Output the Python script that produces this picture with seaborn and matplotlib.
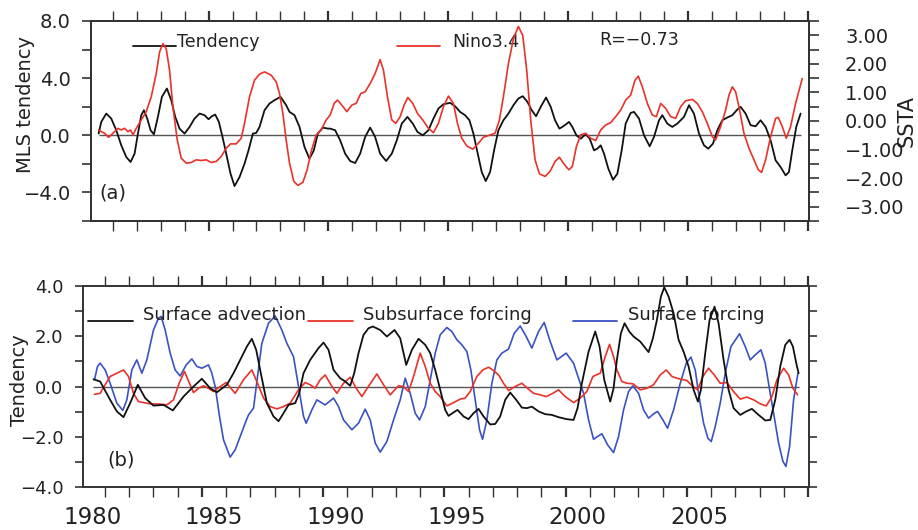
import numpy as np
import matplotlib
matplotlib.use("Agg")
import matplotlib.pyplot as plt
import seaborn as sns

# ---- data ----
# (a) MLS tendency (left axis) and Nino3.4 SSTA (right axis)
tend_year = [1980.418, 1980.529, 1980.737, 1980.946, 1981.154, 1981.363, 1981.571, 1981.751, 1981.918, 1982.057,
             1982.196, 1982.307, 1982.446, 1982.585, 1982.724, 1982.890, 1983.057, 1983.265, 1983.446, 1983.613,
             1983.793, 1984.001, 1984.210, 1984.418, 1984.626, 1984.835, 1985.001, 1985.140, 1985.279, 1985.432,
             1985.599, 1985.738, 1985.918, 1986.085, 1986.293, 1986.501, 1986.668, 1986.849, 1986.987, 1987.126,
             1987.335, 1987.543, 1987.751, 1988.001, 1988.237, 1988.376, 1988.585, 1988.793, 1989.001, 1989.210,
             1989.390, 1989.557, 1989.765, 1989.974, 1990.071, 1990.279, 1990.488, 1990.696, 1990.904, 1991.113,
             1991.321, 1991.529, 1991.738, 1991.946, 1992.154, 1992.404, 1992.640, 1992.849, 1993.057, 1993.293,
             1993.515, 1993.710, 1993.932, 1994.168, 1994.377, 1994.585, 1994.793, 1995.071, 1995.279, 1995.488,
             1995.696, 1995.877, 1996.043, 1996.224, 1996.390, 1996.557, 1996.738, 1996.904, 1997.085, 1997.293,
             1997.502, 1997.710, 1997.918, 1998.099, 1998.293, 1998.474, 1998.654, 1998.849, 1999.071, 1999.265,
             1999.446, 1999.627, 1999.793, 2000.029, 2000.168, 2000.335, 2000.515, 2000.724, 2000.890, 2001.071,
             2001.210, 2001.349, 2001.488, 2001.668, 2001.862, 2002.043, 2002.224, 2002.390, 2002.599, 2002.737,
             2002.946, 2003.154, 2003.390, 2003.571, 2003.779, 2003.918, 2004.126, 2004.335, 2004.543, 2004.821,
             2005.029, 2005.237, 2005.446, 2005.654, 2005.835, 2006.029, 2006.210, 2006.418, 2006.626, 2006.835,
             2007.043, 2007.182, 2007.390, 2007.599, 2007.807, 2008.015, 2008.224, 2008.432, 2008.640, 2008.849,
             2009.057, 2009.196, 2009.335, 2009.501, 2009.682]
tend_val = [0.117, 0.936, 1.520, 1.170, 0.351, -0.702, -1.520, -1.871, -1.287, 0.117,
            1.404, 1.754, 1.170, 0.351, 0.070, 1.287, 2.690, 3.275, 2.456, 1.287,
            0.468, 0.117, 0.585, 1.170, 1.520, 1.404, 1.123, 1.333, 1.450, 0.936,
            -0.234, -1.287, -2.690, -3.556, -2.924, -1.988, -1.053, 0.117, 0.164, 0.585,
            1.754, 2.222, 2.456, 2.690, 2.105, 1.637, 1.404, 0.585, -0.819, -1.637,
            -1.053, 0.117, 0.538, 0.468, 0.468, 0.351, -0.351, -1.287, -1.801, -1.942,
            -1.287, -0.117, 0.538, -0.117, -1.287, -1.801, -1.287, -0.351, 0.819, 1.287,
            0.819, 0.234, 0.000, 0.351, 1.170, 1.871, 2.175, 2.269, 2.035, 1.637,
            1.404, 1.053, 0.117, -1.287, -2.573, -3.205, -2.573, -1.053, 0.351, 1.053,
            1.520, 2.105, 2.573, 2.737, 2.339, 1.754, 1.333, 1.988, 2.643, 1.988,
            1.053, 0.468, 0.632, 0.936, 0.585, 0.000, -0.234, 0.070, -0.234, -1.053,
            -0.936, -0.702, -1.287, -2.339, -3.111, -2.690, -1.053, 0.819, 1.567, 1.637,
            1.170, 0.000, -0.772, -0.117, 1.053, 1.404, 0.819, 0.585, 0.819, 1.287,
            2.105, 1.520, 0.117, -0.702, -0.936, -0.585, 0.351, 1.053, 1.240, 1.404,
            1.801, 1.988, 1.520, 0.702, 0.632, 1.053, 0.585, -0.351, -1.754, -2.222,
            -2.807, -2.573, -1.053, 0.585, 1.520]

nino_year = [1980.418, 1980.529, 1980.668, 1980.835, 1981.015, 1981.224, 1981.363, 1981.501, 1981.640, 1981.751,
             1981.849, 1981.988, 1982.196, 1982.404, 1982.613, 1982.821, 1982.960, 1983.099, 1983.237, 1983.376,
             1983.515, 1983.696, 1983.862, 1984.071, 1984.279, 1984.488, 1984.696, 1984.904, 1985.112, 1985.321,
             1985.529, 1985.738, 1985.918, 1986.154, 1986.362, 1986.501, 1986.710, 1986.918, 1987.126, 1987.335,
             1987.612, 1987.821, 1987.960, 1988.099, 1988.237, 1988.376, 1988.557, 1988.724, 1988.932, 1989.112,
             1989.279, 1989.487, 1989.696, 1989.904, 1990.071, 1990.238, 1990.377, 1990.557, 1990.765, 1990.974,
             1991.154, 1991.349, 1991.529, 1991.738, 1991.946, 1992.154, 1992.293, 1992.460, 1992.640, 1992.807,
             1992.988, 1993.154, 1993.307, 1993.515, 1993.710, 1993.932, 1994.168, 1994.377, 1994.585, 1994.793,
             1995.002, 1995.210, 1995.377, 1995.557, 1995.765, 1996.015, 1996.252, 1996.460, 1996.738, 1996.946,
             1997.127, 1997.293, 1997.502, 1997.710, 1997.918, 1998.099, 1998.265, 1998.432, 1998.613, 1998.793,
             1999.029, 1999.238, 1999.446, 1999.627, 1999.793, 1999.960, 2000.029, 2000.168, 2000.335, 2000.515,
             2000.724, 2000.932, 2001.140, 2001.349, 2001.557, 2001.765, 2001.974, 2002.182, 2002.390, 2002.599,
             2002.779, 2002.918, 2003.085, 2003.293, 2003.501, 2003.668, 2003.849, 2004.057, 2004.265, 2004.474,
             2004.682, 2004.890, 2005.168, 2005.376, 2005.585, 2005.793, 2006.001, 2006.140, 2006.349, 2006.557,
             2006.696, 2006.835, 2006.974, 2007.140, 2007.321, 2007.529, 2007.737, 2007.918, 2008.057, 2008.224,
             2008.432, 2008.640, 2008.751, 2008.918, 2009.085, 2009.265, 2009.474, 2009.751]
nino_val = [-0.314, -0.372, -0.430, -0.569, -0.430, -0.256, -0.314, -0.256, -0.372, -0.314,
            -0.488, -0.256, 0.035, 0.325, 0.848, 1.661, 2.416, 2.706, 2.532, 1.777,
            0.499, -0.662, -1.301, -1.475, -1.452, -1.359, -1.382, -1.359, -1.452, -1.417,
            -1.243, -0.952, -0.801, -0.801, -0.604, -0.081, 0.848, 1.429, 1.638, 1.719,
            1.603, 1.370, 0.964, 0.267, -0.662, -1.475, -2.114, -2.253, -2.149, -1.707,
            -1.069, -0.488, -0.314, 0.035, 0.209, 0.616, 0.732, 0.557, 0.325, 0.557,
            0.616, 0.964, 1.022, 1.312, 1.661, 2.149, 1.777, 0.848, 0.035, -0.081,
            0.151, 0.557, 0.825, 0.616, 0.267, 0.035, -0.256, -0.407, -0.081, 0.499,
            0.871, 0.616, -0.081, -0.604, -0.871, -0.987, -0.778, -0.569, -0.488, -0.430,
            0.035, 0.848, 2.009, 2.880, 3.310, 2.997, 1.777, 0.035, -1.359, -1.847,
            -1.940, -1.765, -1.417, -1.266, -1.475, -1.649, -1.707, -1.591, -0.894, -0.488,
            -0.430, -0.604, -0.685, -0.314, -0.139, -0.058, 0.151, 0.383, 0.732, 0.906,
            1.429, 1.568, 1.196, 0.616, 0.209, 0.151, 0.616, 0.441, 0.151, 0.093,
            0.499, 0.708, 0.755, 0.616, 0.325, -0.081, -0.546, -0.662, -0.197, 0.383,
            0.906, 1.196, 1.022, 0.383, -0.430, -0.952, -1.359, -1.707, -1.800, -1.359,
            -0.546, 0.093, 0.128, -0.197, -0.604, -0.197, 0.616, 1.487]

# (b) tendency terms
adv_year = [1980.533, 1980.808, 1981.220, 1981.495, 1981.770, 1982.045, 1982.361, 1982.663, 1983.007, 1983.419,
            1983.804, 1984.244, 1984.656, 1985.000, 1985.344, 1985.619, 1986.031, 1986.306, 1986.581, 1986.856,
            1987.062, 1987.241, 1987.405, 1987.680, 1987.955, 1988.162, 1988.368, 1988.574, 1988.849, 1989.014,
            1989.192, 1989.467, 1989.811, 1990.017, 1990.223, 1990.430, 1990.705, 1990.911, 1991.117, 1991.282,
            1991.460, 1991.667, 1991.873, 1992.052, 1992.354, 1992.629, 1992.945, 1993.179, 1993.426, 1993.660,
            1993.935, 1994.210, 1994.416, 1994.622, 1994.828, 1995.033, 1995.171, 1995.377, 1995.542, 1995.789,
            1995.995, 1996.201, 1996.408, 1996.614, 1996.889, 1997.095, 1997.301, 1997.507, 1997.714, 1997.961,
            1998.195, 1998.401, 1998.607, 1998.882, 1999.157, 1999.432, 1999.707, 2000.050, 2000.325, 2000.490,
            2000.669, 2000.944, 2001.219, 2001.398, 2001.590, 2001.837, 2001.975, 2002.112, 2002.277, 2002.428,
            2002.621, 2002.800, 2003.074, 2003.418, 2003.597, 2003.762, 2003.927, 2004.064, 2004.243, 2004.449,
            2004.655, 2004.861, 2005.068, 2005.274, 2005.452, 2005.576, 2005.755, 2005.933, 2006.139, 2006.304,
            2006.511, 2006.717, 2006.923, 2007.198, 2007.445, 2007.679, 2007.954, 2008.229, 2008.435, 2008.641,
            2008.848, 2009.054, 2009.232, 2009.370, 2009.507, 2009.604]
adv_val = [0.29, 0.20, -0.53, -0.99, -1.22, -0.66, 0.07, -0.46, -0.76, -0.73,
           -0.95, -0.40, 0.00, 0.31, -0.07, -0.23, 0.07, 0.53, 1.06, 1.59,
           1.90, 1.46, 0.66, -0.66, -1.19, -1.38, -1.06, -0.73, -0.66, -0.27,
           0.53, 1.06, 1.53, 1.75, 1.46, 0.66, 0.33, 0.20, 0.03, 0.53,
           1.33, 2.06, 2.32, 2.39, 2.25, 1.99, 2.25, 1.92, 0.86, 1.46,
           1.90, 1.66, 1.33, 0.66, -0.13, -0.93, -1.17, -1.03, -0.93, -1.19,
           -1.30, -1.06, -0.89, -1.19, -1.51, -1.49, -1.19, -0.53, -0.24, -0.53,
           -0.84, -0.86, -0.80, -0.99, -1.10, -1.13, -1.22, -1.30, -1.33, -0.86,
           0.13, 1.39, 2.19, 1.59, 0.27, -0.60, -0.07, 1.06, 2.12, 2.52,
           2.19, 1.99, 1.79, 1.37, 1.92, 2.65, 3.58, 3.95, 3.58, 2.92,
           1.86, 1.39, 0.80, -0.13, -0.60, -0.13, 1.33, 2.65, 3.18, 2.52,
           1.06, -0.13, -0.86, -1.13, -0.99, -0.89, -1.13, -1.35, -1.33, -0.53,
           0.80, 1.66, 1.86, 1.59, 0.93, 0.53]

sub_year = [1980.574, 1980.808, 1981.014, 1981.220, 1981.495, 1981.770, 1981.976, 1982.182, 1982.388, 1982.869,
            1983.282, 1983.557, 1983.832, 1984.065, 1984.285, 1984.491, 1984.656, 1984.863, 1985.069, 1985.275,
            1985.481, 1985.756, 1986.003, 1986.196, 1986.375, 1986.718, 1987.062, 1987.296, 1987.543, 1987.818,
            1988.093, 1988.368, 1988.643, 1988.986, 1989.261, 1989.467, 1989.674, 1989.880, 1990.086, 1990.320,
            1990.567, 1990.842, 1991.117, 1991.366, 1991.598, 1991.914, 1992.216, 1992.491, 1992.766, 1993.110,
            1993.316, 1993.522, 1993.729, 1994.003, 1994.210, 1994.416, 1994.622, 1994.828, 1995.102, 1995.377,
            1995.652, 1995.858, 1996.064, 1996.339, 1996.586, 1996.820, 1997.026, 1997.233, 1997.439, 1997.645,
            1997.920, 1998.195, 1998.428, 1998.676, 1998.951, 1999.198, 1999.473, 1999.707, 1999.981, 2000.325,
            2000.600, 2000.875, 2001.122, 2001.425, 2001.631, 2001.810, 2001.975, 2002.112, 2002.318, 2002.525,
            2002.772, 2003.074, 2003.349, 2003.624, 2003.899, 2004.147, 2004.380, 2004.655, 2005.000, 2005.247,
            2005.439, 2005.659, 2005.892, 2006.126, 2006.374, 2006.649, 2006.923, 2007.198, 2007.473, 2007.748,
            2008.023, 2008.271, 2008.504, 2008.710, 2008.985, 2009.191, 2009.370, 2009.562]
sub_val = [-0.31, -0.27, 0.07, 0.40, 0.53, 0.66, 0.40, -0.27, -0.60, -0.69,
           -0.70, -0.73, -0.53, 0.13, 0.60, 0.13, -0.24, -0.07, 0.03, -0.07,
           -0.20, 0.00, 0.16, -0.07, -0.27, 0.27, 0.66, 0.13, -0.46, -0.80,
           -0.89, -0.80, -0.66, -0.13, 0.16, 0.07, -0.07, 0.27, 0.46, 0.07,
           -0.27, 0.13, 0.37, -0.07, -0.40, 0.07, 0.50, 0.07, -0.33, 0.03,
           0.00, -0.20, 0.40, 1.33, 0.80, 0.13, -0.20, -0.40, -0.77, -0.64,
           -0.50, -0.46, -0.20, 0.40, 0.66, 0.77, 0.64, 0.46, 0.13, -0.16,
           0.00, 0.13, -0.07, -0.27, -0.33, -0.40, -0.27, -0.13, -0.40, -0.64,
           -0.46, -0.20, 0.40, 0.53, 1.19, 1.68, 1.19, 0.66, 0.20, 0.13,
           0.11, -0.13, -0.07, 0.07, 0.46, 0.66, 0.40, 0.31, 0.24, 0.00,
           -0.13, 0.40, 0.73, 0.46, 0.13, 0.16, -0.20, -0.50, -0.42, -0.53,
           -0.69, -0.77, -0.40, 0.27, 0.73, 0.46, -0.07, -0.33]

sfc_year = [1980.574, 1980.698, 1980.808, 1981.014, 1981.220, 1981.495, 1981.742, 1981.907, 1982.113, 1982.320,
            1982.526, 1982.732, 1983.007, 1983.213, 1983.323, 1983.488, 1983.694, 1983.900, 1984.107, 1984.354,
            1984.588, 1984.794, 1985.000, 1985.275, 1985.412, 1985.550, 1985.729, 1985.893, 1986.168, 1986.375,
            1986.581, 1986.787, 1986.924, 1987.131, 1987.296, 1987.474, 1987.749, 1988.024, 1988.299, 1988.505,
            1988.780, 1988.986, 1989.192, 1989.302, 1989.536, 1989.742, 1990.086, 1990.430, 1990.636, 1990.842,
            1991.186, 1991.460, 1991.735, 1991.942, 1992.148, 1992.354, 1992.629, 1992.904, 1993.179, 1993.385,
            1993.591, 1993.797, 1993.976, 1994.210, 1994.416, 1994.622, 1994.828, 1995.102, 1995.308, 1995.515,
            1995.721, 1995.927, 1996.092, 1996.270, 1996.449, 1996.573, 1996.751, 1996.958, 1997.164, 1997.370,
            1997.645, 1997.879, 1998.126, 1998.373, 1998.607, 1998.882, 1999.115, 1999.363, 1999.638, 2000.023,
            2000.325, 2000.531, 2000.738, 2000.944, 2001.150, 2001.315, 2001.494, 2001.728, 2001.975, 2002.181,
            2002.387, 2002.593, 2002.772, 2003.006, 2003.212, 2003.418, 2003.624, 2003.789, 2004.009, 2004.202,
            2004.449, 2004.724, 2004.971, 2005.164, 2005.342, 2005.521, 2005.686, 2005.865, 2006.002, 2006.167,
            2006.373, 2006.579, 2006.813, 2007.170, 2007.404, 2007.610, 2007.817, 2008.050, 2008.229, 2008.408,
            2008.573, 2008.779, 2008.958, 2009.081, 2009.232, 2009.397, 2009.576]
sfc_val = [0.27, 0.80, 0.93, 0.66, 0.13, -0.66, -0.95, -0.53, 0.66, 1.06,
           0.53, 1.06, 2.25, 2.72, 2.79, 2.25, 1.33, 0.66, 0.42, 0.86,
           1.10, 0.80, 0.73, 0.86, 0.53, 0.00, -1.19, -2.12, -2.81, -2.52,
           -1.99, -1.46, -1.13, -0.86, 0.40, 1.72, 2.52, 2.81, 2.25, 1.72,
           1.19, 0.00, -1.19, -1.46, -0.93, -0.53, -0.73, -0.46, -0.80, -1.33,
           -1.72, -1.46, -0.90, -1.33, -2.25, -2.61, -2.19, -1.33, -0.53, 0.33,
           -0.27, -1.06, -1.33, -0.80, 0.27, 1.33, 2.06, 2.35, 2.19, 1.86,
           1.66, 1.39, 0.66, -0.53, -1.72, -2.10, -1.33, 0.13, 1.06, 1.33,
           1.49, 2.12, 2.41, 1.99, 1.53, 2.19, 2.55, 1.79, 1.06, 1.33,
           0.93, 0.33, -0.27, -1.33, -2.10, -1.99, -1.88, -2.32, -2.63, -1.99,
           -0.93, -0.20, 0.03, -0.27, -0.93, -1.26, -1.09, -0.99, -1.33, -1.66,
           -0.93, 0.13, 0.93, 1.17, 0.66, -0.53, -1.46, -2.06, -2.19, -1.59,
           -0.66, 0.53, 1.59, 2.10, 1.59, 1.06, 1.26, 1.46, 0.93, -0.13,
           -1.06, -2.25, -2.98, -3.18, -2.39, -0.53, 0.53]

label_years = [1980, 1985, 1990, 1995, 2000, 2005]

# ---- style ----
sns.set_style("ticks")
plt.rcParams['font.family'] = ['DejaVu Sans']
plt.rcParams['axes.unicode_minus'] = True
plt.rcParams['lines.solid_joinstyle'] = 'round'

TXT = '#222222'
SPINE = '#333333'
RED = '#e8322a'
BLUE = '#3a52c2'
XLIM = (1980.1, 2010.03)


def fmt(v, nd):
    s = f"{abs(v):.{nd}f}"
    return ("\u2212" + s) if v < 0 else s


def style_axis(ax):
    for sp in ax.spines.values():
        sp.set_color(SPINE)
        sp.set_linewidth(1.4)
    ax.set_xlim(*XLIM)
    ax.set_xticks(np.arange(1985, 2011, 5))
    ax.set_xticks(np.arange(1981, 2011, 1), minor=True)
    ax.set_xticklabels([])
    ax.tick_params(axis='x', which='both', top=True, bottom=True, direction='out',
                   length=7, color=SPINE)
    ax.tick_params(axis='x', which='major', width=1.6)
    ax.tick_params(axis='x', which='minor', width=1.0)


fig = plt.figure(figsize=(9.18, 5.30), dpi=100)

# ---------- panel (a) ----------
ax1 = fig.add_axes([0.0991, 0.583, 0.7821, 0.3774])
style_axis(ax1)
ax1.hlines(0, tend_year[0], tend_year[-1], color='#555555', lw=1.0, zorder=1)
sns.lineplot(x=tend_year, y=tend_val, ax=ax1, color='#111111', lw=1.3,
             estimator=None, sort=False, zorder=3)
ax1.set_ylim(-6, 8)
ax1.set_yticks(np.arange(-6, 9, 2))
ax1.set_yticklabels([fmt(v, 1) if v % 4 == 0 else '' for v in np.arange(-6, 9, 2)])
ax1.tick_params(axis='y', direction='out', length=6.5, width=1.2, color=SPINE,
                labelsize=14, labelcolor=TXT, pad=8)
ax1.set_ylabel('MLS tendency', fontsize=14, color=TXT)
ax1.yaxis.set_label_coords(-0.078, 0.58)

ax1r = ax1.twinx()
sns.lineplot(x=nino_year, y=nino_val, ax=ax1r, color=RED, lw=1.2,
             estimator=None, sort=False, zorder=2)
ax1r.set_ylim(-3.5, 3.5)
ax1r.set_yticks(np.arange(-3.5, 3.6, 0.5))
ax1r.set_yticklabels([fmt(v, 2) if float(v).is_integer() else '' for v in np.arange(-3.5, 3.6, 0.5)])
ax1r.tick_params(axis='y', direction='out', length=7, width=1.2, color=SPINE,
                 labelsize=14, labelcolor=TXT, pad=19)
ax1r.set_ylabel('SSTA', fontsize=15, color=TXT)
ax1r.yaxis.set_label_coords(1.122, 0.5)
for sp in ax1r.spines.values():
    sp.set_color(SPINE)
    sp.set_linewidth(1.4)

# legend (a)
ax1.plot([0.0585, 0.1184], [0.875, 0.875], transform=ax1.transAxes, color='#111111', lw=1.3)
ax1.text(0.1198, 0.895, 'Tendency', transform=ax1.transAxes, fontsize=12.5, color=TXT,
         va='center', ha='left')
ax1.plot([0.426, 0.486], [0.875, 0.875], transform=ax1.transAxes, color=RED, lw=1.3)
ax1.text(0.503, 0.895, 'Nino3.4', transform=ax1.transAxes, fontsize=12.5, color=TXT,
         va='center', ha='left')
ax1.text(0.7075, 0.905, 'R=\u22120.73', transform=ax1.transAxes, fontsize=12.5, color=TXT,
         va='center', ha='left')
ax1.text(0.012, 0.14, '(a)', transform=ax1.transAxes, fontsize=14, color=TXT,
         va='center', ha='left')

# ---------- panel (b) ----------
ax2 = fig.add_axes([0.0904, 0.0811, 0.7908, 0.3792])
style_axis(ax2)
ax2.hlines(0, adv_year[0], adv_year[-1], color='#555555', lw=1.0, zorder=1)
sns.lineplot(x=sfc_year, y=sfc_val, ax=ax2, color=BLUE, lw=1.2,
             estimator=None, sort=False, zorder=2)
sns.lineplot(x=sub_year, y=sub_val, ax=ax2, color=RED, lw=1.2,
             estimator=None, sort=False, zorder=3)
sns.lineplot(x=adv_year, y=adv_val, ax=ax2, color='#111111', lw=1.3,
             estimator=None, sort=False, zorder=4)
ax2.set_ylim(-4, 4)
ax2.set_yticks(np.arange(-4, 5, 1))
ax2.set_yticklabels([fmt(v, 1) if v % 2 == 0 else '' for v in np.arange(-4, 5, 1)])
ax2.tick_params(axis='y', which='both', left=True, right=True, direction='out',
                length=6, width=1.2, color=SPINE, labelsize=13, labelcolor=TXT, pad=8)
ax2.set_ylabel('Tendency', fontsize=14, color=TXT)
ax2.yaxis.set_label_coords(-0.0744, 0.53)
for yr in label_years:
    ax2.text(yr + 0.5, -0.095, str(yr), transform=ax2.get_xaxis_transform(),
             ha='center', va='top', fontsize=16.5, color=TXT)

# legend (b)
ax2.plot([0.007, 0.069], [0.826, 0.826], transform=ax2.transAxes, color='#111111', lw=1.3)
ax2.text(0.0826, 0.856, 'Surface advection', transform=ax2.transAxes, fontsize=13,
         color=TXT, va='center', ha='left')
ax2.plot([0.31, 0.372], [0.826, 0.826], transform=ax2.transAxes, color=RED, lw=1.3)
ax2.text(0.3857, 0.856, 'Subsurface forcing', transform=ax2.transAxes, fontsize=13,
         color=TXT, va='center', ha='left')
ax2.plot([0.675, 0.7355], [0.826, 0.826], transform=ax2.transAxes, color=BLUE, lw=1.3)
ax2.text(0.7507, 0.856, 'Surface forcing', transform=ax2.transAxes, fontsize=13,
         color=TXT, va='center', ha='left')
ax2.text(0.033, 0.134, '(b)', transform=ax2.transAxes, fontsize=14, color=TXT,
         va='center', ha='left')

fig.savefig('out.png', dpi=100)
